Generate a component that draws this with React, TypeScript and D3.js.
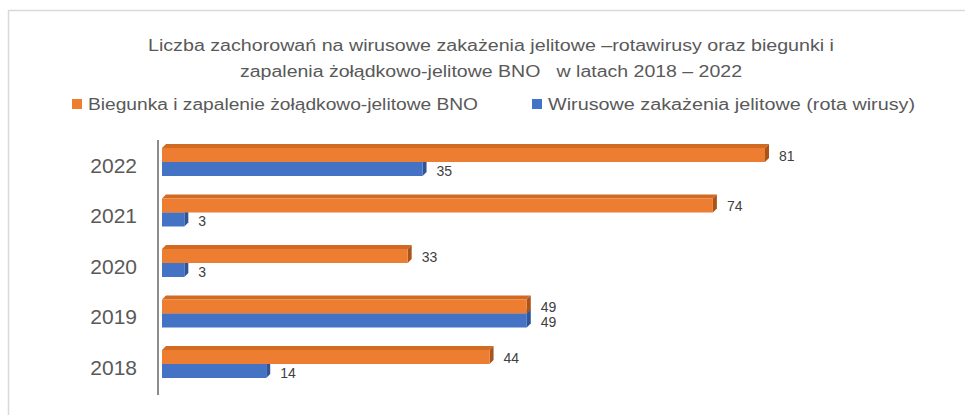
import React from "react";
import * as d3 from "d3";

const years = ["2022", "2021", "2020", "2019", "2018"];
const bno = [81, 74, 33, 49, 44];
const rota = [35, 3, 3, 49, 14];
const seriesNames = [
  "Biegunka i zapalenie żołądkowo-jelitowe BNO",
  "Wirusowe zakażenia jelitowe (rota wirusy)",
];
const titleLines = [
  "Liczba zachorowań na wirusowe zakażenia jelitowe –rotawirusy oraz biegunki i",
  "zapalenia żołądkowo-jelitowe BNO   w latach 2018 – 2022",
];

const W = 965;
const H = 415;
const ORANGE = "#ED7D31";
const ORANGE_TOP = "#d36a22";
const ORANGE_SIDE = "#a9541b";
const BLUE = "#4472C4";
const BLUE_TOP = "#3a62ab";
const BLUE_SIDE = "#2f5597";
const FONT = "'Liberation Sans', Arial, sans-serif";

const x = d3.scaleLinear().domain([0, 81]).range([162, 765]);
const yc = d3.scalePoint<string>().domain(years).range([162, 364]);
const BAR_H = 14;
const D = 4;

function Bar3D({ x0, x1, y, h, front, top, side }: any) {
  const topPts = [
    [x0, y],
    [x0 + D, y - D],
    [x1 + D, y - D],
    [x1, y],
  ];
  const sidePts = [
    [x1, y],
    [x1 + D, y - D],
    [x1 + D, y + h - D],
    [x1, y + h],
  ];
  const line = d3.line();
  return (
    <g>
      <path d={line(topPts as any) + "Z"} fill={top} />
      <path d={line(sidePts as any) + "Z"} fill={side} />
      <rect x={x0} y={y} width={x1 - x0} height={h} fill={front} />
    </g>
  );
}

export default function App() {
  return (
    <svg
      width={W}
      height={H}
      style={{ position: "absolute", left: 0, top: 0, background: "#fff" }}
    >
      <rect x={8.5} y={10.5} width={W} height={H} fill="#fff" stroke="#d9d9d9" strokeWidth={1.5} />
      {titleLines.map((t, i) => (
        <text
          key={i}
          x={i === 0 ? 148 : 240}
          y={i === 0 ? 51 : 77}
          fontFamily={FONT}
          fontSize={16}
          fill="#595959"
          textLength={i === 0 ? 686 : 502}
          lengthAdjust="spacingAndGlyphs"
          style={{ whiteSpace: "pre" }}
        >
          {t}
        </text>
      ))}
      {/* legend */}
      <rect x={72} y={99} width={10} height={10} fill={ORANGE} />
      <text x={88} y={110} fontFamily={FONT} fontSize={16} fill="#595959" textLength={390} lengthAdjust="spacingAndGlyphs">
        {seriesNames[0]}
      </text>
      <rect x={532} y={99} width={10} height={10} fill={BLUE} />
      <text x={548} y={110} fontFamily={FONT} fontSize={16} fill="#595959" textLength={367} lengthAdjust="spacingAndGlyphs">
        {seriesNames[1]}
      </text>

      {/* axis */}
      <line x1={158} x2={158} y1={140} y2={395} stroke="#8c8c8c" strokeWidth={2} />

      {years.map((yr, i) => {
        const c = yc(yr)!;
        return (
          <g key={yr}>
            <Bar3D x0={x(0)} x1={x(rota[i])} y={c} h={BAR_H} front={BLUE} top={BLUE_TOP} side={BLUE_SIDE} />
            <Bar3D x0={x(0)} x1={x(bno[i])} y={c - BAR_H} h={BAR_H} front={ORANGE} top={ORANGE_TOP} side={ORANGE_SIDE} />
            <text x={137} y={c + 5} textAnchor="end" dominantBaseline="middle" fontFamily={FONT} fontSize={21} fill="#595959">
              {yr}
            </text>
            <text x={x(bno[i]) + 14} y={c - 5} dominantBaseline="middle" fontFamily={FONT} fontSize={14} fill="#404040">
              {bno[i]}
            </text>
            <text x={x(rota[i]) + 14} y={c + 10} dominantBaseline="middle" fontFamily={FONT} fontSize={14} fill="#404040">
              {rota[i]}
            </text>
          </g>
        );
      })}
    </svg>
  );
}
